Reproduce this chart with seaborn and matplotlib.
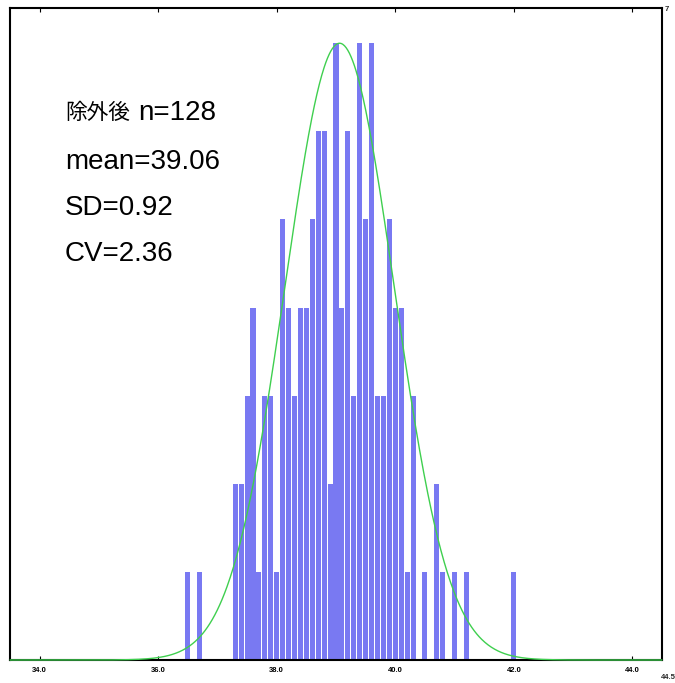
import numpy as np
import pandas as pd
import matplotlib
matplotlib.use("Agg")
import matplotlib.pyplot as plt
import seaborn as sns

# ---- data ----
bin_centers = [36.5, 36.7,
               37.3, 37.4, 37.5, 37.6, 37.7, 37.8, 37.9, 38.0, 38.1, 38.2,
               38.3, 38.4, 38.5, 38.6, 38.7, 38.8, 38.9, 39.0, 39.1, 39.2,
               39.3, 39.4, 39.5, 39.6, 39.7, 39.8, 39.9, 40.0, 40.1, 40.2,
               40.3, 40.5, 40.7, 40.8, 41.0, 41.2, 42.0]
counts = [1, 1,
          2, 2, 3, 4, 1, 3, 3, 1, 5, 4,
          3, 4, 4, 5, 6, 6, 2, 7, 4, 6,
          3, 7, 5, 7, 3, 3, 5, 4, 4, 1,
          3, 1, 2, 1, 1, 1, 1]
mean_val = 39.06
sd_val = 0.92
x_ticks = [34.0, 36.0, 38.0, 40.0, 42.0, 44.0]
x_tick_labels = ["34.0", "36.0", "38.0", "40.0", "42.0", "44.0"]
x_max_label = "44.5"
y_max_label = "7"
title_jp = "除外後"
stat_lines = ["n=128", "mean=39.06", "SD=0.92", "CV=2.36"]

sns.set_theme(style="white")
plt.rcParams['font.family'] = ['Liberation Sans', 'Noto Sans CJK JP', 'DejaVu Sans']

W, H = 675, 683
fig = plt.figure(figsize=(W / 100, H / 100), dpi=100)
ax = fig.add_axes([10 / W, 23 / H, 652 / W, 652 / H])

df = pd.DataFrame({"value": bin_centers, "count": counts})
sns.histplot(data=df, x="value", weights="count", binwidth=0.1,
             binrange=(36.45, 42.05), shrink=0.86,
             color="#7979f2", alpha=1.0, linewidth=0, ax=ax)

xs = np.linspace(33.5, 44.5, 800)
peak = max(counts)
ys = peak * np.exp(-0.5 * ((xs - mean_val) / sd_val) ** 2)
sns.lineplot(x=xs, y=ys, color="#3fcf4f", linewidth=1.0, ax=ax)
for ln in ax.lines:
    ln.set_clip_on(False)
    ln.set_zorder(4)

ax.set_xlim(33.5, 44.5)
ax.set_ylim(0, 7.4)
ax.set_yticks([])
ax.set_xticks(x_ticks)
ax.set_xticklabels(x_tick_labels, fontsize=5.5, fontweight="bold")
ax.tick_params(axis="x", direction="in", length=3, width=0.8, top=True,
               bottom=True, pad=5, colors="black")
ax.set_xlabel("")
ax.set_ylabel("")
for sp in ax.spines.values():
    sp.set_visible(True)
    sp.set_color("black")
    sp.set_linewidth(1.5)

ax.text(1.009, -0.027, x_max_label, transform=ax.transAxes, fontsize=5.5,
        fontweight="bold", ha="center", va="center")
ax.text(1.004, 0.997, y_max_label, transform=ax.transAxes, fontsize=5.5,
        fontweight="bold", ha="left", va="center")

text_x = 0.0844
ys_txt = [0.839, 0.764, 0.693, 0.623]
t_jp = ax.text(text_x, ys_txt[0], title_jp, transform=ax.transAxes,
               fontsize=15.6, ha="left", va="center", color="black",
               family=['Noto Sans CJK JP'])
ax.annotate(stat_lines[0], xy=(1, 0.5), xycoords=t_jp, xytext=(6, 0),
            textcoords="offset points", fontsize=20, ha="left",
            va="center", color="black")
for s, yy in zip(stat_lines[1:], ys_txt[1:]):
    ax.text(text_x, yy, s, transform=ax.transAxes, fontsize=20,
            ha="left", va="center", color="black")

fig.savefig("out.png", dpi=100)
